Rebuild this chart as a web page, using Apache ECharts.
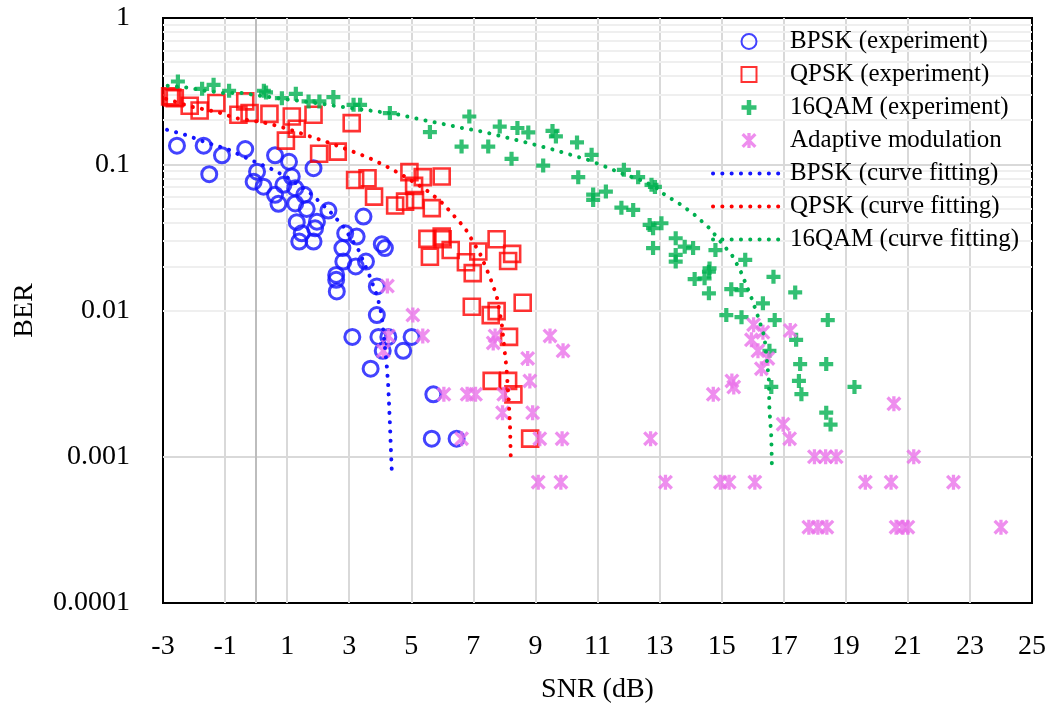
<!DOCTYPE html>
<html><head><meta charset="utf-8">
<script src="https://cdn.jsdelivr.net/npm/echarts@6/dist/echarts.min.js"></script>
<style>html,body{margin:0;padding:0;background:#fff}#c{width:1054px;height:715px}</style>
</head><body><div id="c"></div>
<script>
// ---- data (SNR dB, BER) ----
const bpskExp = [[-2.55,0.134],[-1.69,0.134],[-1.51,0.0855],[-1.10,0.115],[-0.35,0.127],[0.03,0.089],[-0.08,0.076],[0.24,0.0703],[0.61,0.115],[1.06,0.104],[1.15,0.0824],[0.88,0.0723],[1.26,0.0686],[0.61,0.0618],[1.55,0.0618],[1.85,0.094],[0.72,0.0536],[1.26,0.054],[1.63,0.0495],[2.33,0.0482],[3.46,0.0439],[1.31,0.0402],[1.96,0.0405],[1.90,0.0365],[1.47,0.0337],[1.39,0.0296],[1.85,0.0296],[2.87,0.0337],[3.24,0.032],[2.78,0.0267],[2.81,0.0216],[3.21,0.020],[3.54,0.0216],[4.05,0.0284],[4.15,0.0267],[2.58,0.0175],[2.58,0.0162],[2.60,0.0135],[3.89,0.0146],[3.89,0.0093],[3.10,0.0066],[3.94,0.0066],[4.26,0.0066],[5.01,0.0066],[4.08,0.0053],[4.74,0.0053],[3.69,0.004],[5.71,0.00267],[5.66,0.00133],[6.46,0.00133]];
const qpskExp = [[-2.77,0.291],[-2.70,0.286],[-2.62,0.283],[-2.14,0.251],[-1.82,0.233],[-1.28,0.262],[-0.35,0.269],[-0.57,0.218],[-0.21,0.224],[0.43,0.221],[1.15,0.212],[1.85,0.218],[1.31,0.175],[0.96,0.145],[3.08,0.191],[2.03,0.118],[2.63,0.122],[3.19,0.078],[3.59,0.0803],[4.94,0.0883],[5.37,0.0816],[5.98,0.0824],[5.09,0.0711],[3.80,0.0601],[4.48,0.0522],[4.80,0.0555],[5.12,0.057],[5.66,0.0501],[5.52,0.0309],[5.98,0.032],[6.01,0.0307],[5.60,0.0233],[6.27,0.0259],[6.76,0.0214],[6.98,0.018],[7.16,0.0253],[7.75,0.0307],[8.25,0.0244],[8.12,0.0218],[6.95,0.0106],[7.56,0.0093],[7.75,0.0099],[8.59,0.0113],[8.15,0.0066],[7.59,0.0033],[8.12,0.0033],[8.29,0.00267],[8.83,0.00133]];
const qam16Exp = [[-2.52,0.368],[-1.74,0.328],[-1.37,0.349],[-0.87,0.318],[0.25,0.318],[0.32,0.31],[0.83,0.283],[1.28,0.303],[1.69,0.269],[2.04,0.269],[2.49,0.288],[3.14,0.255],[3.35,0.255],[4.31,0.224],[5.60,0.166],[6.87,0.212],[6.62,0.132],[7.48,0.132],[7.85,0.181],[8.42,0.177],[8.77,0.165],[8.23,0.109],[9.55,0.169],[9.66,0.155],[9.25,0.098],[10.34,0.141],[10.81,0.116],[10.38,0.0816],[10.86,0.062],[10.86,0.057],[11.27,0.065],[11.85,0.0916],[12.31,0.0816],[11.77,0.0505],[12.15,0.0487],[12.74,0.0723],[12.85,0.07],[12.68,0.0385],[13.06,0.0395],[12.79,0.0365],[12.79,0.0267],[13.52,0.0312],[13.81,0.0273],[14.08,0.0267],[13.52,0.024],[13.52,0.0216],[14.13,0.0164],[14.45,0.0166],[14.59,0.0184],[14.59,0.0131],[14.80,0.0259],[14.61,0.0194],[15.76,0.0222],[16.67,0.017],[15.31,0.014],[15.64,0.0138],[16.33,0.0112],[17.37,0.0133],[15.15,0.0093],[15.64,0.009],[16.71,0.0086],[18.42,0.0086],[17.40,0.0063],[16.54,0.0053],[17.53,0.0043],[18.37,0.0043],[17.49,0.0033],[19.28,0.003],[17.57,0.00268],[16.60,0.003],[18.37,0.002],[18.51,0.00166]];
const adaptive = [[4.23,0.0147],[5.05,0.0093],[5.37,0.0067],[4.26,0.0067],[4.10,0.0053],[6.05,0.00267],[6.80,0.00267],[7.07,0.00267],[7.98,0.00267],[6.62,0.00133],[7.70,0.0067],[7.64,0.006],[7.94,0.002],[8.75,0.0047],[8.82,0.0033],[8.91,0.002],[9.14,0.00133],[9.86,0.00133],[9.47,0.0067],[9.89,0.0053],[12.71,0.00133],[9.09,0.00067],[9.82,0.00067],[13.19,0.00067],[16.03,0.008],[16.33,0.0071],[15.96,0.0063],[16.17,0.0053],[16.49,0.0047],[16.28,0.004],[17.21,0.0073],[15.33,0.0033],[15.39,0.003],[14.73,0.00267],[16.98,0.00167],[17.19,0.00133],[17.99,0.001],[18.35,0.001],[18.69,0.001],[21.19,0.001],[20.55,0.0023],[14.96,0.00067],[15.24,0.00067],[16.07,0.00067],[19.63,0.00067],[20.46,0.00067],[22.47,0.00067],[17.81,0.00033],[18.10,0.00033],[18.39,0.00033],[20.62,0.00033],[20.84,0.00033],[21.0,0.00033],[24.0,0.00033]];
const bpskFit = [[-2.87,0.172],[-2.28,0.159],[-1.69,0.143],[-0.89,0.126],[-0.30,0.110],[0.51,0.0925],[1.04,0.0805],[1.74,0.0636],[2.38,0.0475],[2.81,0.0375],[3.30,0.0259],[3.67,0.017],[3.92,0.0122],[4.05,0.0092],[4.21,0.0042],[4.26,0.003],[4.31,0.0017],[4.37,0.00081]];
const qpskFit = [[-2.9,0.28],[-2.12,0.248],[-1.26,0.228],[-0.67,0.207],[0.24,0.193],[0.78,0.181],[1.90,0.151],[2.49,0.137],[3.03,0.124],[3.62,0.111],[4.16,0.0977],[4.69,0.0848],[5.44,0.0677],[5.92,0.0564],[6.14,0.0505],[6.73,0.0366],[7.21,0.0246],[7.53,0.017],[7.75,0.0126],[7.91,0.0083],[8.07,0.004],[8.15,0.0022],[8.18,0.00165],[8.21,0.0009]];
const qam16Fit = [[-2.85,0.344],[-2.25,0.335],[-1.64,0.318],[-1.05,0.307],[-0.46,0.307],[0.13,0.294],[1.1,0.276],[1.95,0.262],[2.81,0.246],[3.67,0.233],[4.53,0.220],[5.47,0.199],[6.05,0.188],[6.64,0.177],[7.24,0.168],[7.82,0.157],[8.41,0.146],[8.98,0.136],[9.57,0.126],[10.14,0.116],[10.70,0.107],[11.29,0.0956],[11.82,0.0858],[12.36,0.0785],[12.85,0.0703],[13.17,0.0618],[13.70,0.0527],[14.13,0.0451],[14.61,0.0365],[15.37,0.0233],[15.64,0.018],[15.96,0.0122],[16.17,0.0091],[16.38,0.0066],[16.52,0.0034],[16.54,0.0021],[16.60,0.00138],[16.62,0.00086]];
const seriesNames = ['BPSK (experiment)','QPSK (experiment)','16QAM (experiment)','Adaptive modulation','BPSK (curve fitting)','QPSK (curve fitting)','16QAM (curve fitting)'];
const yTickLabels = {'-4':'0.0001','-3':'0.001','-2':'0.01','-1':'0.1','0':'1'};
const xMin = -3, xMax = 25, xStep = 2;
const yMin = 0.0001, yMax = 1;

// ---- chart ----
const FONT = '"Liberation Serif", "DejaVu Serif", serif';
const BLUE = '#1414ff', RED = '#ff0000', GREEN = '#00b050', PINK = '#ea72ea';
const minorVals = [];
for (let d = -4; d < 0; d++) for (let k = 2; k <= 9; k++) minorVals.push(+(k * Math.pow(10, d)).toPrecision(3));
const dotted = [0.1, 9.2];
const PLUS = 'path://M3.5,0H6.5V3.5H10V6.5H6.5V10H3.5V6.5H0V3.5H3.5Z';
const STAR = 'path://M-0.92,0.92L0.92,-0.92L10.92,9.08L9.08,10.92Z' +
             'M9.08,-0.92L10.92,0.92L0.92,10.92L-0.92,9.08Z' +
             'M3.7,-0.92L6.3,-0.92L6.3,10.92L3.7,10.92Z';
const SQUARE = 'path://M0,0H10V10H0Z';
const chart = echarts.init(document.getElementById('c'), null, {renderer: 'canvas'});
chart.setOption({
  animation: false,
  backgroundColor: '#fff',
  grid: {left: 163, top: 18, right: 22, bottom: 112, show: true, borderColor: '#000', borderWidth: 2, backgroundColor: 'transparent'},
  legend: {
    orient: 'vertical', left: 706, top: 24, itemWidth: 72, itemHeight: 15, itemGap: 8,
    data: seriesNames.map((n, i) => i < 4 ? {name: n} : {name: n, itemStyle: {opacity: 0}}),
    lineStyle: {width: 4, cap: 'round'},
    textStyle: {fontFamily: FONT, fontSize: 25, color: '#000'},
    selectedMode: false, z: 6
  },
  xAxis: {
    type: 'value', min: xMin, max: xMax, interval: xStep,
    axisLine: {show: false}, axisTick: {show: false},
    splitLine: {show: true, showMinLine: false, showMaxLine: false, lineStyle: {color: '#d9d9d9', width: 2}},
    axisLabel: {fontFamily: FONT, fontSize: 28, color: '#000', margin: 30},
    name: 'SNR (dB)', nameLocation: 'middle', nameGap: 73,
    nameTextStyle: {fontFamily: FONT, fontSize: 28, color: '#000'}
  },
  yAxis: {
    type: 'log', logBase: 10, min: yMin, max: yMax,
    axisLine: {show: false}, axisTick: {show: false},
    splitLine: {show: true, showMinLine: false, showMaxLine: false, lineStyle: {color: '#d9d9d9', width: 2}},
    axisLabel: {fontFamily: FONT, fontSize: 28, color: '#000', margin: 33,
      formatter: v => yTickLabels[String(Math.round(Math.log10(v)))] || ''},
    name: 'BER', nameLocation: 'middle', nameGap: 124, nameRotate: 90,
    nameTextStyle: {fontFamily: FONT, fontSize: 28, color: '#000'}
  },
  series: [
    {type: 'line', data: [], silent: true, z: 1, symbol: 'none',
      markLine: {silent: true, z: 1, symbol: ['none', 'none'], label: {show: false}, animation: false,
        emphasis: {disabled: true},
        lineStyle: {color: '#efefef', width: 2, type: 'solid'},
        data: minorVals.map(v => ({yAxis: v})).concat([{xAxis: 0, lineStyle: {color: '#bdbdbd', width: 2, type: 'solid'}}])}},
    {name: seriesNames[0], type: 'scatter', data: bpskExp, symbol: 'circle', symbolSize: 15, z: 3,
      itemStyle: {color: 'rgba(0,0,0,0)', borderColor: BLUE, borderWidth: 3}},
    {name: seriesNames[1], type: 'scatter', data: qpskExp, symbol: SQUARE, symbolSize: 16, z: 3,
      itemStyle: {color: 'rgba(0,0,0,0)', borderColor: RED, borderWidth: 2.6}},
    {name: seriesNames[2], type: 'scatter', data: qam16Exp, symbol: PLUS, symbolSize: 14, z: 3,
      itemStyle: {color: GREEN}},
    {name: seriesNames[3], type: 'scatter', data: adaptive, symbol: STAR, symbolSize: [15, 15], z: 3,
      itemStyle: {color: PINK}},
    {name: seriesNames[4], type: 'line', data: bpskFit, symbol: 'none', showSymbol: false, z: 4,
      lineStyle: {color: BLUE, width: 4, type: dotted, cap: 'round'}, itemStyle: {color: BLUE}},
    {name: seriesNames[5], type: 'line', data: qpskFit, symbol: 'none', showSymbol: false, z: 4,
      lineStyle: {color: RED, width: 4, type: dotted, cap: 'round'}, itemStyle: {color: RED}},
    {name: seriesNames[6], type: 'line', data: qam16Fit, symbol: 'none', showSymbol: false, z: 4,
      lineStyle: {color: GREEN, width: 4, type: dotted, cap: 'round'}, itemStyle: {color: GREEN}}
  ]
});
</script></body></html>
